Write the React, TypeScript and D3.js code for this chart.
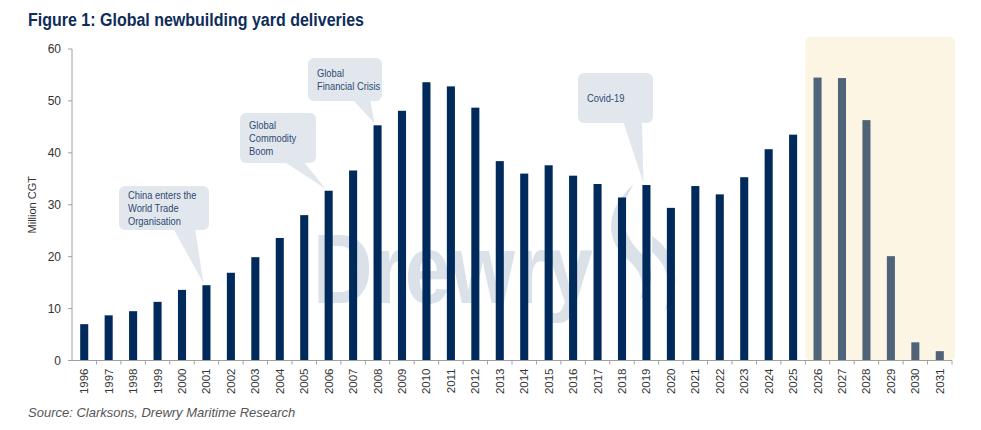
import React from 'react';
import * as d3 from 'd3';

const years = [
  '1996', '1997', '1998', '1999', '2000', '2001', '2002', '2003', '2004', '2005', '2006', '2007',
  '2008', '2009', '2010', '2011', '2012', '2013', '2014', '2015', '2016', '2017', '2018', '2019',
  '2020', '2021', '2022', '2023', '2024', '2025', '2026', '2027', '2028', '2029', '2030', '2031',
];
const deliveries = [
  7.0, 8.7, 9.5, 11.3, 13.6, 14.5, 16.9, 19.9, 23.6, 28.0, 32.7, 36.6,
  45.3, 48.1, 53.6, 52.8, 48.7, 38.4, 36.0, 37.6, 35.6, 34.0, 31.4, 33.8,
  29.4, 33.6, 32.0, 35.3, 40.7, 43.5, 54.5, 54.4, 46.3, 20.1, 3.5, 1.8,
];
const forecastFrom = '2026';
const yTicks = [0, 10, 20, 30, 40, 50, 60];

const callouts = [
  { year: '2001', lines: ['China enters the', 'World Trade', 'Organisation'], box: [119, 186, 90, 44], tail: [173, 195] },
  { year: '2006', lines: ['Global', 'Commodity', 'Boom'], box: [240, 113, 76, 50], tail: [283, 303] },
  { year: '2008', lines: ['Global', 'Financial Crisis'], box: [308, 58, 74, 43], tail: [352, 370] },
  { year: '2019', lines: ['Covid-19'], box: [578, 73, 75, 50], tail: [623, 642] },
];

const W = 981;
const H = 430;
const margin = { top: 49, right: 29, bottom: 69, left: 72 };
const sans = '"Liberation Sans", Arial, sans-serif';

export default function App() {
  const x = d3.scaleBand<string>().domain(years).range([margin.left, W - margin.right]).paddingInner(0.67).paddingOuter(0.335);
  const step = x.step();
  const y = d3.scaleLinear().domain([0, 60]).range([H - margin.bottom - 0.5, margin.top]);
  const y0 = y(0);
  const forecastX = (x(forecastFrom) as number) - (step * 0.335);
  const xEnd = W - margin.right;

  return (
    <div style={{ position: 'fixed', left: 0, top: 0 }}>
      <svg width={W} height={H} style={{ display: 'block', background: '#fff' }}>
        <text x={28} y={26} fontFamily={sans} fontWeight="bold" fontSize={18} fill="#0f2d5b" textLength={336} lengthAdjust="spacingAndGlyphs">
          Figure 1: Global newbuilding yard deliveries
        </text>

        {/* forecast shading */}
        <rect x={forecastX} y={37} width={xEnd + 3 - forecastX} height={y0 - 37} rx={5} fill="#fdf5e3" />

        {/* watermark */}
        <g fill="#dae1e9">
          <text x={313} y={303} fontFamily={sans} fontWeight="bold" fontSize={99} textLength={280} lengthAdjust="spacingAndGlyphs">
            Drewry
          </text>
          <path d="M634,184 C606,208 604,238 626,258 C640,270 646,282 640,300 C656,282 654,266 640,252 C620,232 618,208 634,184 Z" />
          <path d="M652,236 C676,252 684,284 664,312 C672,292 672,270 652,252 Z" />
        </g>

        {/* y axis */}
        <line x1={margin.left} x2={margin.left} y1={y(60)} y2={y0} stroke="#a0a0a0" />
        {yTicks.map(t => (
          <g key={t}>
            <line x1={margin.left - 4} x2={margin.left} y1={y(t)} y2={y(t)} stroke="#a0a0a0" />
            <text x={margin.left - 11} y={y(t)} dy="0.35em" textAnchor="end" fontFamily={sans} fontSize={12} fill="#333">
              {t}
            </text>
          </g>
        ))}
        <text transform={`translate(36,${(y(60) + y0) / 2}) rotate(-90)`} textAnchor="middle" fontFamily={sans} fontSize={11} fill="#333">
          Million CGT
        </text>

        {/* bars */}
        {years.map((yr, i) => (
          <rect
            key={yr}
            x={x(yr)}
            y={y(deliveries[i])}
            width={x.bandwidth()}
            height={y0 - y(deliveries[i])}
            fill={+yr >= +forecastFrom ? '#4f6479' : '#002a5c'}
          />
        ))}

        {/* x axis */}
        <line x1={margin.left} x2={xEnd} y1={y0} y2={y0} stroke="#a0a0a0" />
        {years.map((yr, i) => {
          const bx = margin.left + step * (i + 1);
          const cx = (x(yr) as number) + x.bandwidth() / 2;
          return (
            <g key={yr}>
              <line x1={bx} x2={bx} y1={y0} y2={y0 + 4} stroke="#a0a0a0" />
              <text transform={`translate(${cx},${y0 + 8}) rotate(-90)`} dy="0.35em" textAnchor="end" fontFamily={sans} fontSize={11.5} fill="#333">
                {yr}
              </text>
            </g>
          );
        })}

        {/* callouts */}
        {callouts.map(c => {
          const i = years.indexOf(c.year);
          const tipX = (x(c.year) as number) + x.bandwidth() / 2 - 3;
          const tipY = y(deliveries[i]) - 2;
          const [bx, by, bw, bh] = c.box;
          const lineH = 12.7;
          const top = by + bh / 2 - ((c.lines.length - 1) * lineH) / 2;
          return (
            <g key={c.year}>
              <path d={`M${c.tail[0]},${by + bh - 2} L${tipX},${tipY} L${c.tail[1]},${by + bh - 2} Z`} fill="#e2e7ed" />
              <rect x={bx} y={by} width={bw} height={bh} rx={6} fill="#e2e7ed" />
              <g transform={`translate(${bx + 9},${top}) scale(0.85,1)`}>
                {c.lines.map((l, k) => (
                  <text key={k} x={0} y={k * lineH} dy="0.35em" fontFamily={sans} fontSize={11} fill="#2c4a72">
                    {l}
                  </text>
                ))}
              </g>
            </g>
          );
        })}

        <text x={28} y={417} fontFamily={sans} fontStyle="italic" fontSize={13} fill="#555">
          Source: Clarksons, Drewry Maritime Research
        </text>
      </svg>
    </div>
  );
}
